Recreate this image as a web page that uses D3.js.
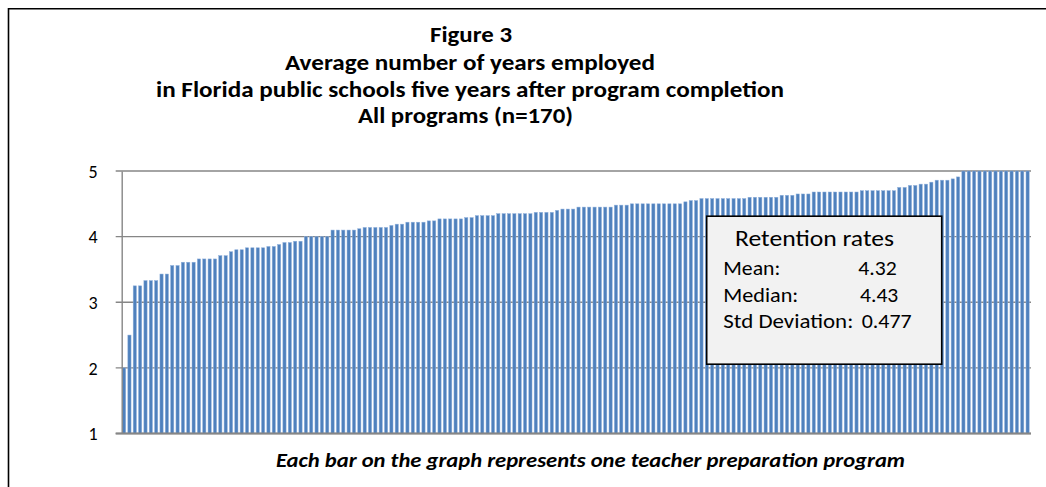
<!DOCTYPE html>
<html>
<head>
<meta charset="utf-8">
<script src="https://cdn.jsdelivr.net/npm/d3@7"></script>
<style>
  html, body { margin: 0; padding: 0; background: #fff; }
  svg { display: block; }
  text { font-family: Carlito, Calibri, Lato, "Open Sans", sans-serif; fill: #000; }
</style>
</head>
<body>
<svg id="chart" width="1046" height="487"></svg>
<script>
// ---- data ----
const titleLines = [
  "Figure 3",
  "Average number of years employed",
  "in Florida public schools five years after program completion",
  "All  programs (n=170)"
];
const caption = "Each bar on the graph represents one teacher preparation program";
const yTicks = [1, 2, 3, 4, 5];
const statLabels = ["Mean:", "Median:", "Std Deviation:"];
const statValues = ["4.32", "4.43", "0.477"];
const boxTitle = "Retention rates";
// average years employed per program, sorted ascending (170 programs)
const values = [
  2.00, 2.50, 3.25, 3.25, 3.33, 3.33, 3.33, 3.43, 3.43, 3.56,
  3.56, 3.61, 3.61, 3.61, 3.66, 3.66, 3.66, 3.66, 3.71, 3.71,
  3.77, 3.80, 3.80, 3.83, 3.83, 3.83, 3.83, 3.85, 3.85, 3.88,
  3.91, 3.91, 3.93, 3.93, 4.00, 4.00, 4.00, 4.00, 4.00, 4.10,
  4.10, 4.10, 4.10, 4.10, 4.12, 4.14, 4.14, 4.14, 4.14, 4.14,
  4.17, 4.19, 4.19, 4.22, 4.22, 4.22, 4.22, 4.24, 4.24, 4.27,
  4.27, 4.27, 4.27, 4.27, 4.29, 4.29, 4.32, 4.32, 4.32, 4.32,
  4.35, 4.35, 4.35, 4.35, 4.35, 4.35, 4.35, 4.37, 4.37, 4.37,
  4.37, 4.40, 4.42, 4.42, 4.42, 4.45, 4.45, 4.45, 4.45, 4.45,
  4.45, 4.45, 4.48, 4.48, 4.48, 4.50, 4.50, 4.50, 4.50, 4.50,
  4.50, 4.50, 4.50, 4.50, 4.50, 4.53, 4.55, 4.55, 4.58, 4.58,
  4.58, 4.58, 4.58, 4.58, 4.58, 4.58, 4.58, 4.60, 4.60, 4.60,
  4.60, 4.60, 4.60, 4.63, 4.63, 4.63, 4.65, 4.65, 4.65, 4.68,
  4.68, 4.68, 4.68, 4.68, 4.68, 4.68, 4.68, 4.68, 4.70, 4.70,
  4.70, 4.70, 4.70, 4.70, 4.70, 4.75, 4.75, 4.78, 4.78, 4.80,
  4.80, 4.83, 4.86, 4.86, 4.86, 4.88, 4.91, 5.00, 5.00, 5.00,
  5.00, 5.00, 5.00, 5.00, 5.00, 5.00, 5.00, 5.00, 5.00, 5.00
];
const programs = values.map((v, i) => "P" + (i + 1));

// ---- drawing ----
const svg = d3.select("#chart");
svg.append("rect").attr("width", 1046).attr("height", 487).attr("fill", "#fff");

// outer chart frame (cut off at right and bottom)
svg.append("path")
  .attr("d", "M8.5,487 L8.5,8.8 L1046,8.8")
  .attr("fill", "none").attr("stroke", "#000").attr("stroke-width", 1.6);

const plot = { left: 121.7, right: 1030, top: 171, bottom: 433.5 };

const x = d3.scaleBand().domain(programs)
  .range([plot.left, plot.right]).paddingInner(0.4).paddingOuter(0.15);
const y = d3.scaleLinear().domain([1, 5]).range([plot.bottom, plot.top]);

// gridlines
svg.append("g").selectAll("line").data(yTicks).join("line")
  .attr("x1", plot.left - 6).attr("x2", plot.right + 1)
  .attr("y1", d => y(d)).attr("y2", d => y(d))
  .attr("stroke", "#868686").attr("stroke-width", 1.3);

// bars
svg.append("g").selectAll("rect").data(values).join("rect")
  .attr("x", (d, i) => x(programs[i]))
  .attr("width", x.bandwidth())
  .attr("y", d => y(d))
  .attr("height", d => y(1) - y(d))
  .attr("fill", "#4f81bd")
  .attr("stroke", "#8fb0dc").attr("stroke-width", 0.5);

// y axis
const yAxis = d3.axisLeft(y).tickValues(yTicks).tickSize(0).tickPadding(0).tickFormat(d3.format("d"));
const ga = svg.append("g").attr("transform", `translate(${plot.left},0)`).call(yAxis);
ga.select(".domain").attr("stroke", "#868686").attr("stroke-width", 1.4);
ga.selectAll("text")
  .attr("x", 93 - plot.left).attr("dy", "0.35em")
  .attr("text-anchor", "middle")
  .style("font-family", "Carlito, Calibri, Lato, sans-serif")
  .style("font-size", "18px").style("fill", "#000");

// baseline
svg.append("line").attr("x1", plot.left - 6).attr("x2", plot.right + 1)
  .attr("y1", y(1)).attr("y2", y(1)).attr("stroke", "#868686").attr("stroke-width", 2);

// title
const titleSpec = [
  { x: 430, base: 41.5, w: 82 },
  { x: 285, base: 69.5, w: 370 },
  { x: 156, base: 96.5, w: 628 },
  { x: 358, base: 123, w: 215 }
];
svg.append("g").selectAll("text").data(titleLines).join("text")
  .attr("x", (d, i) => titleSpec[i].x)
  .attr("y", (d, i) => titleSpec[i].base)
  .attr("font-weight", "bold").attr("font-size", 22.5)
  .attr("textLength", (d, i) => titleSpec[i].w)
  .attr("lengthAdjust", "spacingAndGlyphs")
  .text(d => d);

// stats box
const box = svg.append("g");
box.append("rect").attr("x", 706.7).attr("y", 216.2).attr("width", 235).attr("height", 148)
  .attr("fill", "#f2f2f2").attr("stroke", "#000").attr("stroke-width", 1.6);
box.append("text").attr("x", 735).attr("y", 245.7).attr("font-size", 22.5)
  .attr("textLength", 159).attr("lengthAdjust", "spacingAndGlyphs").text(boxTitle);
const rowsY = [275, 301.7, 328.3];
const labW = [57, 75, 130];
const valX = [858.3, 860, 861.7];
const valW = [38.5, 38.3, 50];
box.selectAll("text.lab").data(statLabels).join("text").attr("class", "lab")
  .attr("x", 723.3).attr("y", (d, i) => rowsY[i]).attr("font-size", 20.5)
  .attr("textLength", (d, i) => labW[i]).attr("lengthAdjust", "spacingAndGlyphs")
  .text(d => d);
box.selectAll("text.val").data(statValues).join("text").attr("class", "val")
  .attr("x", (d, i) => valX[i]).attr("y", (d, i) => rowsY[i]).attr("font-size", 20.5)
  .attr("textLength", (d, i) => valW[i]).attr("lengthAdjust", "spacingAndGlyphs")
  .text(d => d);

// caption
svg.append("text").attr("x", 276).attr("y", 466.5)
  .attr("font-weight", "bold").attr("font-style", "italic").attr("font-size", 19.5)
  .attr("textLength", 629).attr("lengthAdjust", "spacingAndGlyphs")
  .text(caption);
</script>
</body>
</html>
